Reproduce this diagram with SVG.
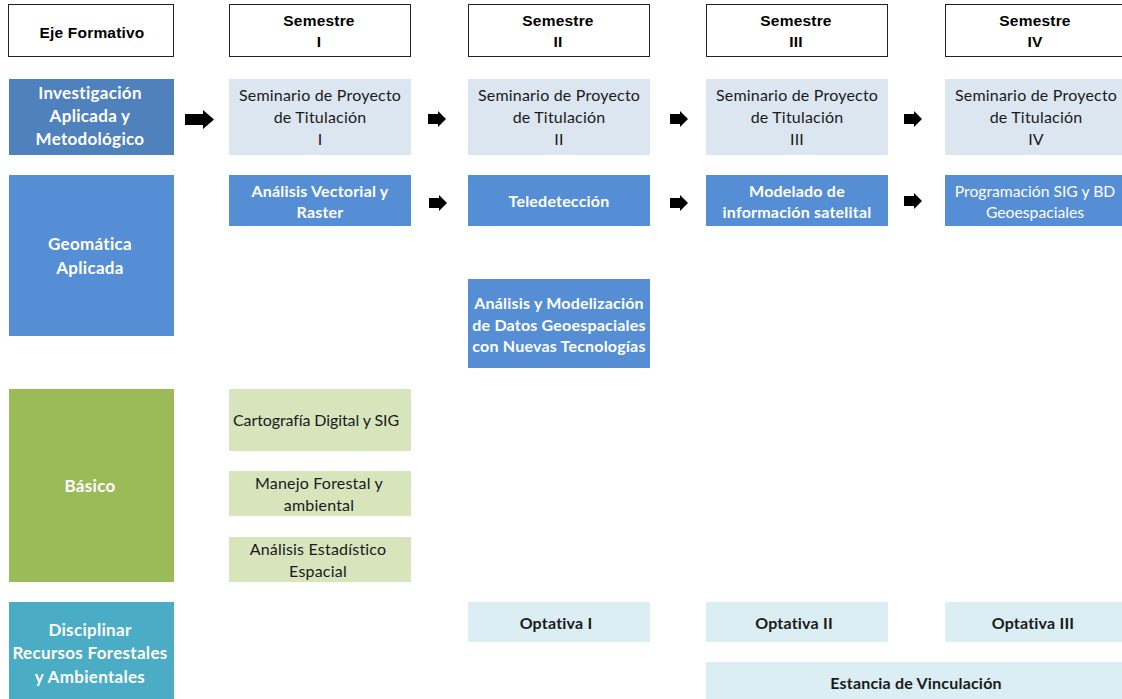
<svg xmlns="http://www.w3.org/2000/svg" width="1122" height="699" viewBox="0 0 1122 699">
<style>
.hdr{fill:#fff;stroke:#222;stroke-width:1}
.ht{font-family:"Liberation Sans",Arial,sans-serif;font-weight:bold;font-size:15.5px;letter-spacing:0.2px;fill:#000;text-anchor:middle}
.wt{font-family:Lato,"Open Sans",sans-serif;font-weight:bold;font-size:17px;letter-spacing:0.3px;fill:#fff;text-anchor:middle}
.ws{font-family:Lato,"Open Sans",sans-serif;font-weight:bold;font-size:16px;letter-spacing:0.2px;fill:#fff;text-anchor:middle}
.wn{font-family:Lato,"Open Sans",sans-serif;font-size:15.7px;fill:#fff;text-anchor:middle}
.dt{font-family:Lato,"Open Sans",sans-serif;font-size:16px;letter-spacing:0.2px;fill:#1a1a1a;text-anchor:middle}
.db{font-family:Lato,"Open Sans",sans-serif;font-weight:bold;font-size:16px;letter-spacing:0.2px;fill:#1a1a1a;text-anchor:middle}
.ax{fill:#4f81bd}.geo{fill:#558ed5}.sem{fill:#dce6f1}.bas{fill:#9bbb59}.lg{fill:#d7e4bc}.dis{fill:#4bacc6}.op{fill:#dbeef4}
</style>
<g id="headers">
<g id="h-eje"><rect class="hdr" x="8.5" y="4.5" width="165" height="52"/><text class="ht" x="92" y="37.5">Eje Formativo</text></g>
<g id="h-s1"><rect class="hdr" x="229.5" y="4.5" width="181" height="52"/><text class="ht" x="319" y="26">Semestre</text><text class="ht" x="319" y="47">I</text></g>
<g id="h-s2"><rect class="hdr" x="468.5" y="4.5" width="181" height="52"/><text class="ht" x="558" y="26">Semestre</text><text class="ht" x="558" y="47">II</text></g>
<g id="h-s3"><rect class="hdr" x="706.5" y="4.5" width="181" height="52"/><text class="ht" x="796" y="26">Semestre</text><text class="ht" x="796" y="47">III</text></g>
<g id="h-s4"><rect class="hdr" x="945.5" y="4.5" width="181" height="52"/><text class="ht" x="1035" y="26">Semestre</text><text class="ht" x="1035" y="47">IV</text></g>
</g>
<g id="inv"><rect class="ax" x="9" y="79" width="165" height="76"/><text class="wt" x="90" y="99">Investigación</text><text class="wt" x="90" y="122">Aplicada y</text><text class="wt" x="90" y="145">Metodológico</text></g>
<g id="sem1"><rect class="sem" x="229" y="79" width="182" height="76"/><text class="dt" x="320" y="100.5">Seminario de Proyecto</text><text class="dt" x="320" y="122.5">de Titulación</text><text class="dt" x="320" y="144.5">I</text></g>
<g id="sem2"><rect class="sem" x="468" y="79" width="182" height="76"/><text class="dt" x="559" y="100.5">Seminario de Proyecto</text><text class="dt" x="559" y="122.5">de Titulación</text><text class="dt" x="559" y="144.5">II</text></g>
<g id="sem3"><rect class="sem" x="706" y="79" width="182" height="76"/><text class="dt" x="797" y="100.5">Seminario de Proyecto</text><text class="dt" x="797" y="122.5">de Titulación</text><text class="dt" x="797" y="144.5">III</text></g>
<g id="sem4"><rect class="sem" x="945" y="79" width="182" height="76"/><text class="dt" x="1036" y="100.5">Seminario de Proyecto</text><text class="dt" x="1036" y="122.5">de Titulación</text><text class="dt" x="1036" y="144.5">IV</text></g>
<g id="geo"><rect class="geo" x="9" y="175" width="165" height="161"/><text class="wt" x="90" y="250">Geomática</text><text class="wt" x="90" y="274">Aplicada</text></g>
<g id="avr"><rect class="geo" x="229" y="175" width="182" height="51"/><text class="ws" x="320" y="196.5">Análisis Vectorial y</text><text class="ws" x="320" y="217.5">Raster</text></g>
<g id="tel"><rect class="geo" x="468" y="175" width="182" height="51"/><text class="ws" x="559" y="206.5">Teledetección</text></g>
<g id="mod"><rect class="geo" x="706" y="175" width="182" height="51"/><text class="ws" x="797" y="196.5">Modelado de</text><text class="ws" x="797" y="217.5">información satelital</text></g>
<g id="prog"><rect class="geo" x="945" y="175" width="182" height="51"/><text class="wn" x="1035" y="196.5">Programación SIG y BD</text><text class="wn" x="1035" y="217.5">Geoespaciales</text></g>
<g id="amd"><rect class="geo" x="468" y="279" width="182" height="89"/><text class="ws" x="559" y="308.5">Análisis y Modelización</text><text class="ws" x="559" y="330.5">de Datos Geoespaciales</text><text class="ws" x="559" y="351.5">con Nuevas Tecnologías</text></g>
<g id="bas"><rect class="bas" x="9" y="389" width="165" height="193"/><text class="wt" x="90" y="492">Básico</text></g>
<g id="carto"><rect class="lg" x="229" y="389" width="182" height="62"/><text class="dt" x="316" y="425.5" style="letter-spacing:-0.1px">Cartografía Digital y SIG</text></g>
<g id="manejo"><rect class="lg" x="229" y="471" width="182" height="45"/><text class="dt" x="319" y="488.5">Manejo Forestal y</text><text class="dt" x="319" y="510.5">ambiental</text></g>
<g id="aest"><rect class="lg" x="229" y="537" width="182" height="45"/><text class="dt" x="318" y="554.5">Análisis Estadístico</text><text class="dt" x="318" y="576.5">Espacial</text></g>
<g id="dis"><rect class="dis" x="9" y="602" width="165" height="97"/><text class="wt" x="90" y="636">Disciplinar</text><text class="wt" x="90" y="659">Recursos Forestales</text><text class="wt" x="90" y="683">y Ambientales</text></g>
<g id="op1"><rect class="op" x="468" y="602" width="182" height="40"/><text class="db" x="556" y="628.5">Optativa I</text></g>
<g id="op2"><rect class="op" x="706" y="602" width="182" height="40"/><text class="db" x="794" y="628.5">Optativa II</text></g>
<g id="op3"><rect class="op" x="945" y="602" width="182" height="40"/><text class="db" x="1033" y="628.5">Optativa III</text></g>
<g id="est"><rect class="op" x="706" y="662" width="420" height="37"/><text class="db" x="916" y="688.5">Estancia de Vinculación</text></g>
<g id="connectors" fill="#000">
<polygon points="185,114 203,114 203,110 214,119.5 203,129 203,125 185,125"/>
<polygon points="428,114 438,114 438,111 446,119 438,127 438,124 428,124"/>
<polygon points="670,114 680,114 680,111 688,119 680,127 680,124 670,124"/>
<polygon points="904,114 914,114 914,111 922,119 914,127 914,124 904,124"/>
<polygon points="429,198 439,198 439,195 447,203 439,211 439,208 429,208"/>
<polygon points="670,198 680,198 680,195 688,203 680,211 680,208 670,208"/>
<polygon points="904,196 914,196 914,193 922,201 914,209 914,206 904,206"/>
</g>
</svg>
